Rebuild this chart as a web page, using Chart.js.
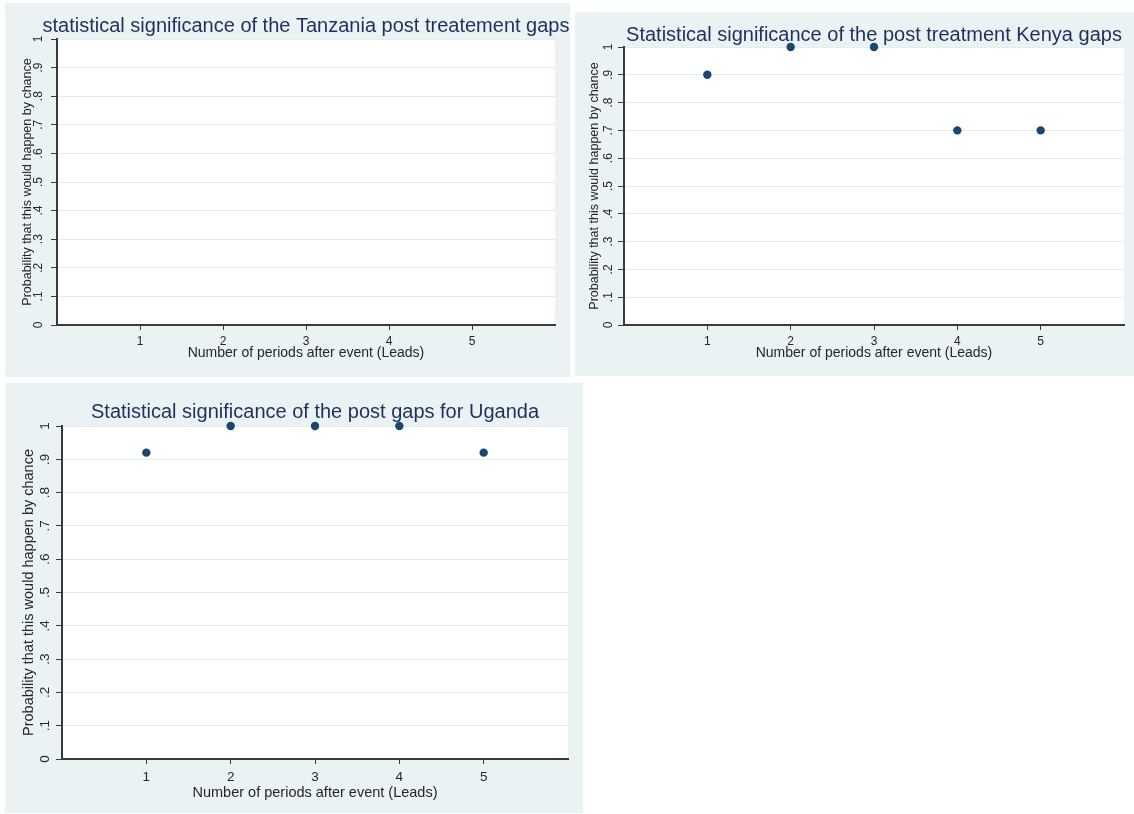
<!DOCTYPE html>
<html>
<head>
<meta charset="utf-8">
<script src="https://cdn.jsdelivr.net/npm/chart.js@4/dist/chart.umd.min.js"></script>
<style>
  html, body { margin: 0; padding: 0; background: #fff; }
  body { width: 1134px; height: 814px; position: relative; overflow: hidden; }
  .panel { position: absolute; background: #eaf2f3; }
  .panel canvas { display: block; }
</style>
</head>
<body>
<div class="panel" style="left:5px;top:3px;width:565px;height:374px"><canvas id="tanzania_chart"></canvas></div>
<div class="panel" style="left:575px;top:12px;width:559px;height:364px"><canvas id="kenya_chart"></canvas></div>
<div class="panel" style="left:5px;top:383px;width:578px;height:430px"><canvas id="uganda_chart"></canvas></div>

<script>
// Data
var periods      = [1, 2, 3, 4, 5]
var tanzaniaP    = []   // the Tanzania panel has no markers
var kenyaP       = [0.9, 1, 1, 0.7, 0.7]
var ugandaP      = [0.92, 1, 1, 1, 0.92]

var xTickValues  = [1, 2, 3, 4, 5]
var yTickValues  = [0, 0.1, 0.2, 0.3, 0.4, 0.5, 0.6, 0.7, 0.8, 0.9, 1]
var yTickLabels  = ['0', '.1', '.2', '.3', '.4', '.5', '.6', '.7', '.8', '.9', '1']

var tanzaniaTitle = 'statistical significance of the Tanzania post treatement gaps'
var kenyaTitle    = 'Statistical significance of the post treatment Kenya gaps'
var ugandaTitle   = 'Statistical significance of the post gaps for Uganda'
var xTitle        = 'Number of periods after event (Leads)'
var yTitle        = 'Probability that this would happen by chance'

var font        = 'Arial, "Liberation Sans", sans-serif'
var titleColor  = '#1f2f5e'
var textColor   = '#262626'
var axisColor   = '#3a3a3a'
var gridColor   = '#e4eced'
var markerColor = '#1a476f'

// White plot region + title centred over it (Stata style)
var panelTitle = {
    id: 'panelTitle',
    beforeDraw: function (chart) {
        var a = chart.chartArea
        var ctx = chart.ctx
        ctx.save()
        ctx.fillStyle = '#ffffff'
        ctx.fillRect(a.left, a.top, a.right - a.left, a.bottom - a.top)
        ctx.restore()
    },
    afterDraw: function (chart, args, opts) {
        var a = chart.chartArea
        var ctx = chart.ctx
        ctx.save()
        ctx.font = opts.size + 'px ' + font
        ctx.fillStyle = titleColor
        ctx.textAlign = 'center'
        ctx.textBaseline = 'middle'
        ctx.fillText(opts.text, (a.left + a.right) / 2, opts.y)
        ctx.restore()
    }
}

function makeChart(id, title, values, L) {
    var points = values.map(function (v, i) {
        return { x: periods[i], y: v }
    })

    return new Chart(document.getElementById(id), {
        type: 'scatter',
        data: {
            datasets: [{
                data: points,
                backgroundColor: markerColor,
                borderWidth: 0,
                pointRadius: 4.2,
                pointHoverRadius: 4.2,
                clip: false
            }]
        },
        options: {
            responsive: true,
            maintainAspectRatio: false,
            animation: false,
            devicePixelRatio: 1,
            layout: {
                padding: { left: 0, top: L.top, right: L.w - L.right, bottom: 0 }
            },
            plugins: {
                legend: { display: false },
                tooltip: { enabled: false },
                panelTitle: { text: title, y: L.titleY, size: L.titleSize }
            },
            scales: {
                x: {
                    type: 'linear',
                    min: 0,
                    max: 6,
                    afterBuildTicks: function (s) {
                        s.ticks = xTickValues.map(function (v) { return { value: v } })
                    },
                    afterFit: function (s) { s.height = L.h - L.bottom },
                    border: { display: true, color: axisColor, width: 2 },
                    grid: { drawOnChartArea: false, tickLength: 5, tickColor: axisColor, tickWidth: 1 },
                    ticks: {
                        color: textColor,
                        font: { family: font, size: L.tickSize },
                        padding: L.xTickPad,
                        maxRotation: 0
                    },
                    title: {
                        display: true,
                        text: xTitle,
                        color: textColor,
                        font: { family: font, size: L.xTitleSize },
                        padding: { top: 0, bottom: L.xTitlePad }
                    }
                },
                y: {
                    type: 'linear',
                    min: 0,
                    max: 1,
                    afterBuildTicks: function (s) {
                        s.ticks = yTickValues.map(function (v) { return { value: v } })
                    },
                    afterFit: function (s) { s.width = L.left },
                    border: { display: true, color: axisColor, width: 2 },
                    grid: { color: gridColor, lineWidth: 1, tickColor: axisColor, tickLength: 6, tickWidth: 1 },
                    ticks: {
                        color: textColor,
                        font: { family: font, size: L.tickSize },
                        padding: L.yTickPad,
                        minRotation: 90,
                        maxRotation: 90,
                        crossAlign: 'center',
                        callback: function (v, i) { return yTickLabels[i] }
                    },
                    title: {
                        display: true,
                        text: yTitle,
                        color: textColor,
                        font: { family: font, size: L.yTitleSize },
                        padding: { top: L.yTitlePad, bottom: 0 }
                    }
                }
            }
        },
        plugins: [panelTitle]
    })
}

Chart.defaults.font.family = font

makeChart('tanzania_chart', tanzaniaTitle, tanzaniaP, {
    w: 565, h: 374, left: 52, right: 550, top: 36, bottom: 322,
    titleY: 23, titleSize: 20, tickSize: 12, xTitleSize: 14, yTitleSize: 12.5,
    xTitlePad: 15.6, yTitlePad: 15.5, xTickPad: 4, yTickPad: 7
})

makeChart('kenya_chart', kenyaTitle, kenyaP, {
    w: 559, h: 364, left: 49, right: 549, top: 35, bottom: 313,
    titleY: 23, titleSize: 20, tickSize: 12, xTitleSize: 14, yTitleSize: 12.5,
    xTitlePad: 14.6, yTitlePad: 12.5, xTickPad: 4, yTickPad: 4
})

makeChart('uganda_chart', ugandaTitle, ugandaP, {
    w: 578, h: 430, left: 57, right: 563, top: 43, bottom: 376,
    titleY: 29, titleSize: 20, tickSize: 13.5, xTitleSize: 14.5, yTitleSize: 14.5,
    xTitlePad: 11.3, yTitlePad: 15.3, xTickPad: 5, yTickPad: 5.5
})
</script>
</body>
</html>
